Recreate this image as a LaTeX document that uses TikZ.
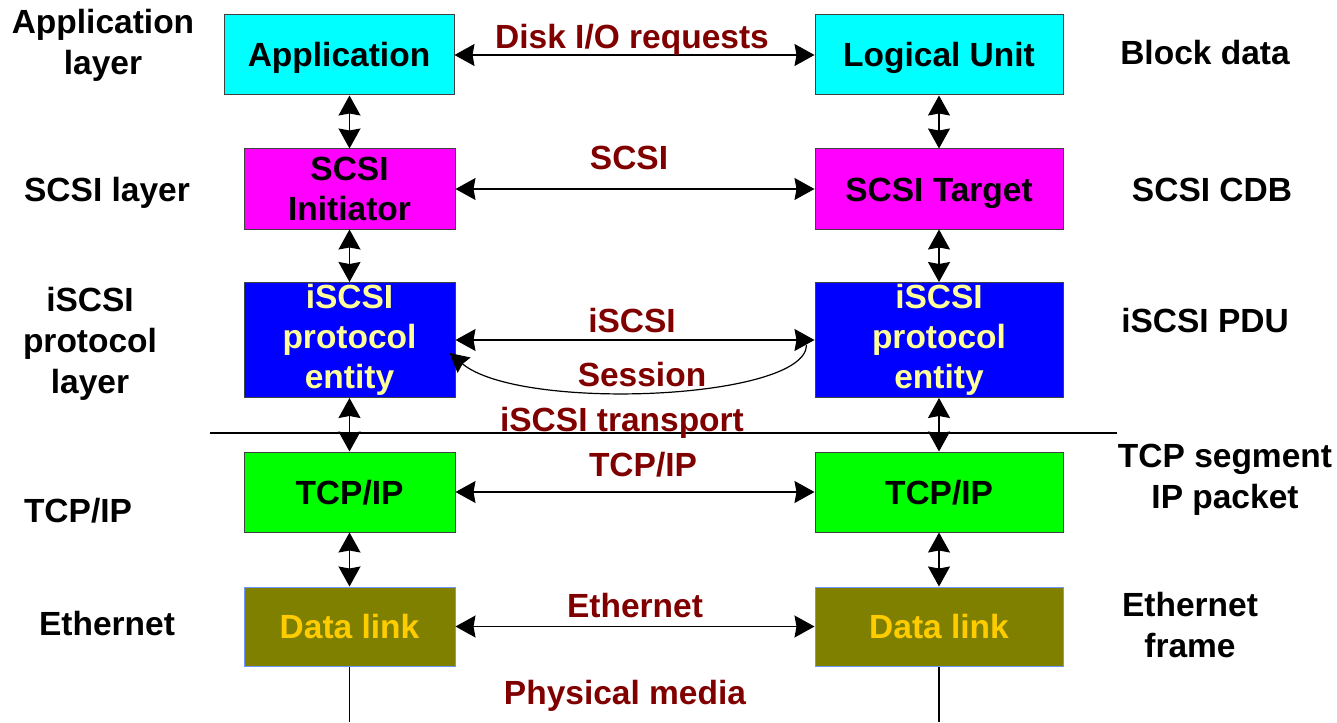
\documentclass[tikz,border=0pt]{standalone}
\usepackage{fontspec}
\setmainfont{Liberation Sans}
\usetikzlibrary{arrows.meta}
\definecolor{lbl}{RGB}{128,0,0}
\definecolor{cyanbox}{RGB}{0,255,255}
\definecolor{magbox}{RGB}{255,0,255}
\definecolor{bluebox}{RGB}{0,0,255}
\definecolor{greenbox}{RGB}{0,255,0}
\definecolor{olivebox}{RGB}{128,128,0}
\definecolor{paleyel}{RGB}{255,255,153}
\definecolor{goldtxt}{RGB}{255,204,0}
\definecolor{dlborder}{RGB}{110,150,255}
\tikzset{
  box/.style={draw=black!75, line width=1pt, inner sep=0pt, align=center,
    font=\fontsize{33.5}{40}\selectfont\bfseries},
  oneline/.style={text height=24pt, text depth=0pt},
  lab/.style={text=lbl, inner sep=0pt, font=\fontsize{33.5}{40}\selectfont\bfseries},
  side/.style={text=black, inner sep=0pt, align=center, font=\fontsize{33.5}{41}\selectfont\bfseries},
  dbl/.style={line width=1.2pt, {Stealth[length=20pt,width=22pt,inset=2pt]}-{Stealth[length=20pt,width=22pt,inset=2pt]}},
  one/.style={line width=1.2pt, -{Stealth[length=19pt,width=20pt,inset=2pt]}},
  plain/.style={line width=1.2pt}
}
\begin{document}
\begin{tikzpicture}[x=1pt,y=-1pt]
\useasboundingbox (0,0) rectangle (1337,722);
% boxes
\node[box, oneline, fill=cyanbox, minimum width=230pt, minimum height=80pt] (app) at (339,55) {Application};
\node[box, oneline, fill=cyanbox, minimum width=248pt, minimum height=80pt] (lu) at (939,55) {Logical Unit};
\node[box, fill=magbox, minimum width=211pt, minimum height=80pt] (init) at (349.5,189) {SCSI\\Initiator};
\node[box, oneline, fill=magbox, minimum width=248pt, minimum height=80pt] (tgt) at (939,189) {SCSI Target};
\node[box, fill=bluebox, text=paleyel, minimum width=211pt, minimum height=115pt] (il) at (349.5,340) {iSCSI\\protocol\\entity};
\node[box, fill=bluebox, text=paleyel, minimum width=248pt, minimum height=115pt] (ir) at (939,340) {iSCSI\\protocol\\entity};
\node[box, oneline, fill=greenbox, minimum width=211pt, minimum height=80pt] (tl) at (349.5,492) {TCP/IP};
\node[box, oneline, fill=greenbox, minimum width=248pt, minimum height=80pt] (tr) at (939,492) {TCP/IP};
\node[box, oneline, draw=dlborder, fill=olivebox, text=goldtxt, minimum width=211pt, minimum height=79pt] (dl) at (349.5,626.5) {Data link};
\node[box, oneline, draw=dlborder, fill=olivebox, text=goldtxt, minimum width=248pt, minimum height=79pt] (dr) at (939,626.5) {Data link};
% vertical arrows
\draw[dbl] (init.north |- app.south) -- (init.north);
\draw[dbl] (lu.south) -- (tgt.north);
\draw[dbl] (init.south) -- (il.north);
\draw[dbl] (tgt.south) -- (ir.north);
\draw[dbl] (il.south) -- (tl.north);
\draw[dbl] (ir.south) -- (tr.north);
\draw[dbl] (tl.south) -- (dl.north);
\draw[dbl] (tr.south) -- (dr.north);
% horizontal arrows
\draw[dbl] (app.east) -- (lu.west);
\draw[dbl] (init.east) -- (tgt.west);
\draw[dbl] (il.east) -- (ir.west);
\draw[dbl] (tl.east) -- (tr.west);
\draw[dbl] (dl.east) -- (dr.west);
% session curve
\draw[one] ([xshift=-8pt,yshift=-5pt]ir.west) .. controls (806,400) and (520,412) .. ([xshift=-6pt,yshift=-13pt]il.east);
% separator
\coordinate (sepl) at (210,433);
\coordinate (sepr) at (1117,433);
\draw[plain] (sepl) -- (sepr);
% physical lines
\coordinate (pl) at (349.5,722);
\coordinate (pr) at (939,722);
\draw[plain] (dl.south) -- (pl);
\draw[plain] (dr.south) -- (pr);
% middle labels
\node[lab, anchor=base] (l1) at (632,49) {Disk I/O requests};
\node[lab, anchor=base] (l2) at (629,169) {SCSI};
\node[lab, anchor=base] (l3) at (632,332) {iSCSI};
\node[lab, anchor=base] (l4) at (642,386) {Session};
\node[lab, anchor=base] (l5) at (622,431) {iSCSI transport};
\node[lab, anchor=base] (l6) at (643,476) {TCP/IP};
\node[lab, anchor=base] (l7) at (635,617) {Ethernet};
\node[lab, anchor=base] (l8) at (625,704) {Physical media};
% left labels
\node[side, anchor=north] (s1) at (103,9) {Application\\layer};
\node[side, anchor=base] (s2) at (107,201) {SCSI layer};
\node[side, anchor=north] (s3) at (90,287) {iSCSI\\protocol\\layer};
\node[side, anchor=base] (s4) at (78,522) {TCP/IP};
\node[side, anchor=base] (s5) at (107,635) {Ethernet};
% right labels
\node[side, anchor=base] (r1) at (1205,65) {Block data};
\node[side, anchor=base] (r2) at (1212,201) {SCSI CDB};
\node[side, anchor=base] (r3) at (1205,332) {iSCSI PDU};
\node[side, anchor=north] (r4) at (1225,444) {TCP segment\\IP packet};
\node[side, anchor=north] (r5) at (1190,592) {Ethernet\\frame};
\end{tikzpicture}
\end{document}
